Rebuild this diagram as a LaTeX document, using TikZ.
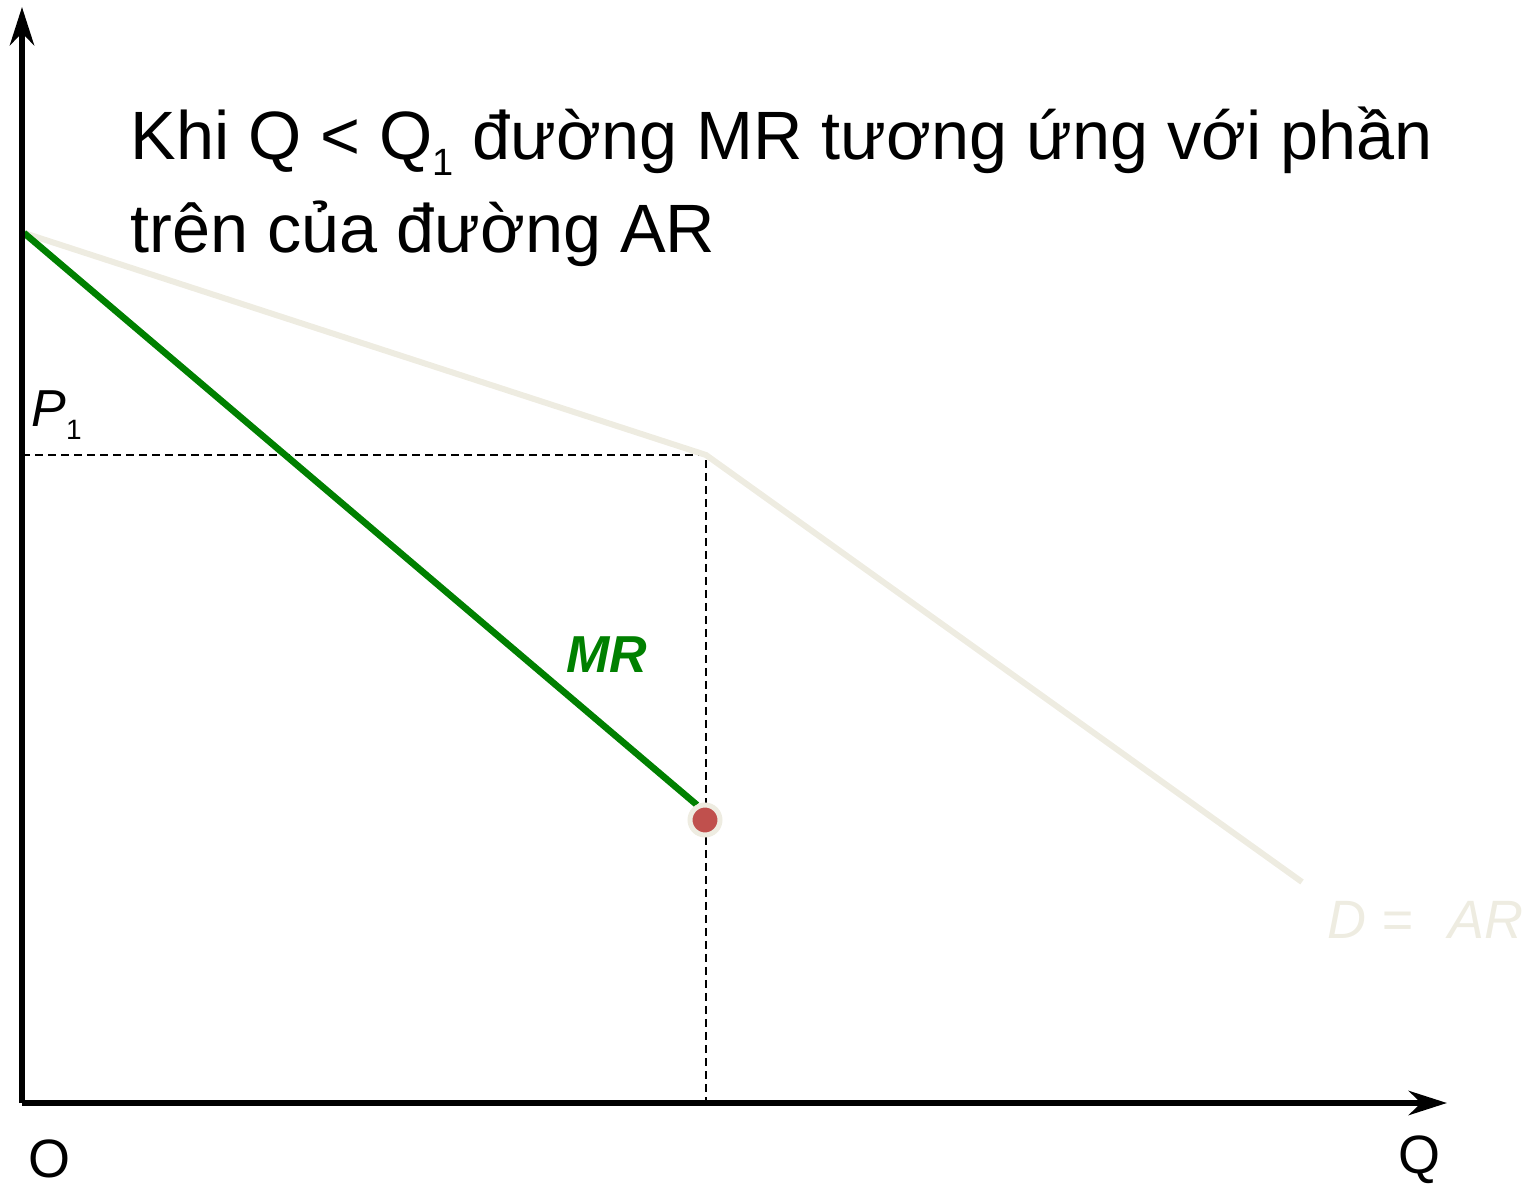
\documentclass[tikz,border=0pt]{standalone}
\usepackage{fontspec}
\setmainfont{Liberation Sans}
\usetikzlibrary{arrows.meta}
\definecolor{arbeige}{RGB}{238,236,225}
\definecolor{mrgreen}{RGB}{0,128,0}
\definecolor{dotred}{RGB}{192,80,77}

\begin{document}
\begin{tikzpicture}[x=0.5pt, y=-0.5pt, >={Stealth[length=19pt, width=12pt, inset=6pt]},
	axis/.style={line width=3.2pt},
	arline/.style={draw=arbeige, line width=3pt},
	mrline/.style={draw=mrgreen, line width=3.3pt},
	guide/.style={line width=0.9pt, dash pattern=on 4pt off 2.5pt},
	lbl/.style={inner sep=0pt, anchor=base west, font=\fontsize{26}{30}\selectfont}]
				\useasboundingbox (0,0) rectangle (1537,1186);
				\coordinate (O) at (22,1103);
				\coordinate (ytop) at (22,7);
				\coordinate (xend) at (1447,1103);
				\coordinate (A) at (24,233);
				\coordinate (K) at (706,455);
				\coordinate (E) at (1302,882);
				\coordinate (M) at (697,805);
				\coordinate (P1) at (22,455);
				\coordinate (Q1) at (706,1103);
				
				\node[inner sep=0pt, anchor=base west, align=left, font=\fontsize{34.2}{46.5}\selectfont] (title) at (130,253)
					{Khi Q < Q\raisebox{-8pt}{\fontsize{19}{19}\selectfont 1} đường MR tương ứng với phần\\trên của đường AR};
				
				\draw[guide] (P1) -- (K) -- (Q1);
				\draw[arline] (A) -- (K) -- (E);
				\draw[mrline] (A) -- (M);
				\node[circle, fill=dotred, draw=arbeige, line width=2.5pt, minimum size=15pt, inner sep=0pt] (pt) at (705,820) {};
				\draw[axis, ->] (O) -- (ytop);
				\draw[axis, ->] (O) -- (xend);
				
				\node[lbl] (lblP) at (31,427) {\textit{P}\raisebox{-6.5pt}{\fontsize{14}{14}\selectfont 1}};
				\node[lbl, text=mrgreen] (lblMR) at (566,673) {\textbf{\textit{MR}}};
				\node[lbl, text=arbeige, font=\fontsize{27}{30}\selectfont] (lblAR) at (1327,938) {\textit{D =\hspace{18pt}AR}};
				\node[lbl, font=\fontsize{27}{30}\selectfont] (lblO) at (28,1177) {O};
				\node[lbl, font=\fontsize{27}{30}\selectfont] (lblQ) at (1398,1173) {Q};
			\end{tikzpicture}
\end{document}
